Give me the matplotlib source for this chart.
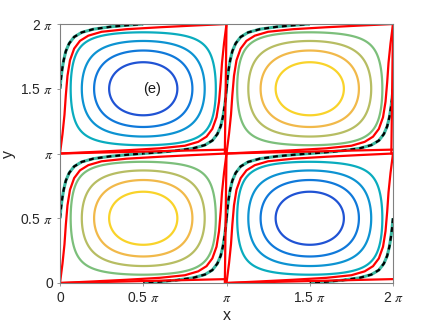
import numpy as np
import matplotlib
matplotlib.use("Agg")
import matplotlib.pyplot as plt

# stream function levels and the parula colours they map to
LEVELS = [-0.8, -0.6, -0.4, -0.2, 0.2, 0.4, 0.6, 0.8]
LEVEL_COLORS = ["#2053d4", "#1079da", "#0d93d2", "#0aacbe",
                "#7cbf7b", "#b7bd63", "#f1b94a", "#f9d32a"]

# one cell, local coords in units of pi (u across, v up)
# red curve: bottom-left corner, up the left side, along the top to the top-right corner
RED_U = [0.0, 0.015, 0.027, 0.035, 0.045, 0.06, 0.085, 0.12, 0.17, 0.25, 0.4, 0.6, 0.8, 1.0]
RED_V = [0.0, 0.15, 0.3, 0.45, 0.6, 0.72, 0.81, 0.87, 0.91, 0.94, 0.96, 0.975, 0.988, 1.0]
# dashed curve: mid left edge to mid top edge, hugging the corner
DASH_U = [0.0, 0.006, 0.013, 0.022, 0.035, 0.055, 0.085, 0.13, 0.2, 0.3, 0.4, 0.5]
DASH_V = [0.5, 0.58, 0.65, 0.72, 0.79, 0.85, 0.9, 0.935, 0.96, 0.978, 0.99, 1.0]
# straight red edges of a cell
BOTTOM_U = [0.0, 1.0]
BOTTOM_V = [0.0, 0.03]
RIGHT_U = [1.0, 0.99]
RIGHT_V = [1.0, 0.0]

CELLS = [(0, 0), (1, 0), (0, 1), (1, 1)]
RIGHT_EDGE_CELLS = [(0, 0), (0, 1), (1, 1)]

TICKS = [0, 0.5, 1, 1.5, 2]
TICK_LABELS = ["0", r"0.5 $\pi$", r"$\pi$", r"1.5 $\pi$", r"2 $\pi$"]

RED = "#ff0000"
TEAL = "#3cb8a0"


def to_xy(u, v, cell, flip=False):
    u = np.asarray(u, dtype=float)
    v = np.asarray(v, dtype=float)
    if flip:
        u, v = 1.0 - u, 1.0 - v
    return (u + cell[0]) * np.pi, (v + cell[1]) * np.pi


def main():
    plt.rcParams["font.family"] = ["Liberation Sans", "DejaVu Sans"]
    plt.rcParams["mathtext.fontset"] = "stix"

    fig = plt.figure(figsize=(4.36, 3.28), dpi=100)
    ax = fig.add_axes([0.1376, 0.1372, 0.7638, 0.7896])

    x = np.linspace(0, 2 * np.pi, 401)
    X, Y = np.meshgrid(x, x)
    Z = np.sin(X) * np.sin(Y)
    ax.contour(X, Y, Z, levels=LEVELS, colors=LEVEL_COLORS, linewidths=1.6)

    for cell in CELLS:
        for flip in (False, True):
            xs, ys = to_xy(DASH_U, DASH_V, cell, flip)
            ax.plot(xs, ys, color=TEAL, lw=2.2, solid_capstyle="butt", zorder=3)
            ax.plot(xs, ys, color="black", lw=1.6, dashes=(2.2, 1.8), zorder=4)
        for flip in (False, True):
            xs, ys = to_xy(RED_U, RED_V, cell, flip)
            ax.plot(xs, ys, color=RED, lw=1.6, zorder=5)
        xs, ys = to_xy(BOTTOM_U, BOTTOM_V, cell)
        ax.plot(xs, ys, color=RED, lw=1.6, zorder=5)
    for cell in RIGHT_EDGE_CELLS:
        xs, ys = to_xy(RIGHT_U, RIGHT_V, cell)
        ax.plot(xs, ys, color=RED, lw=1.6, zorder=5)

    ax.text(0.5 * np.pi, 1.5 * np.pi, "(e)", fontsize=10.5, ha="left",
            va="center", color="#1a1a1a")

    ax.set_xlim(0, 2 * np.pi)
    ax.set_ylim(0, 2 * np.pi)
    ax.set_xticks([t * np.pi for t in TICKS])
    ax.set_yticks([t * np.pi for t in TICKS])
    ax.set_xticklabels(TICK_LABELS)
    ax.set_yticklabels(TICK_LABELS)
    ax.tick_params(direction="out", length=2, width=0.6, color="#888888",
                   labelsize=10, labelcolor="#262626")
    ax.tick_params(axis="x", pad=4)
    ax.tick_params(axis="y", pad=3)
    for sp in ax.spines.values():
        sp.set_color("#808080")
        sp.set_linewidth(0.8)
        sp.set_zorder(6)

    ax.set_xlabel("x", fontsize=11.5, color="#262626", labelpad=2)
    ax.set_ylabel("y", fontsize=11.5, color="#262626", labelpad=3)

    fig.savefig("out.png", dpi=100)
    plt.close(fig)


if __name__ == "__main__":
    main()
